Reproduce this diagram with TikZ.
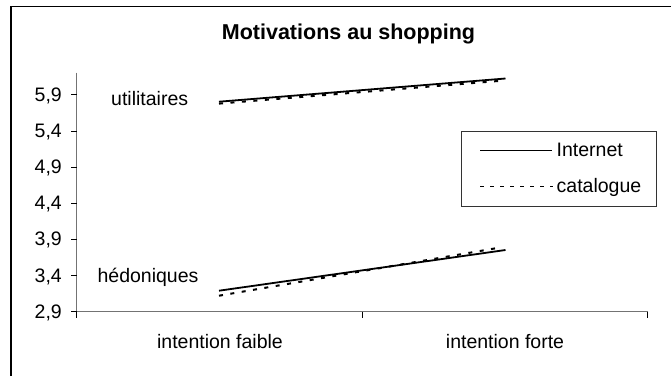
\documentclass[tikz,border=0pt]{standalone}
\usepackage{fontspec}
\setmainfont{Liberation Sans}
\begin{document}
\begin{tikzpicture}[x=1pt,y=-1pt,
  lbl/.style={inner sep=0pt,font=\fontsize{19.5}{22}\selectfont},
  ticklbl/.style={lbl,anchor=base east},
  axisline/.style={draw=black!55,line width=1.1pt},
  tickmark/.style={draw=black,line width=0.9pt},
  internet/.style={draw=black,line width=1.8pt},
  catalogue/.style={draw=black,line width=2pt,dash pattern=on 4pt off 7.5pt},
  leginternet/.style={draw=black,line width=1.2pt},
  legcatalogue/.style={draw=black,line width=1.3pt,dash pattern=on 3.5pt off 6.5pt}]
\useasboundingbox (0,0) rectangle (671,376);
% frame (only top and left visible)
\draw[line width=1.5pt] (11,376) -- (11,6.7) -- (671,6.7);
% title
\node[inner sep=0pt,anchor=base,font=\fontsize{21.5}{24}\selectfont\bfseries] (title) at (348.5,39) {Motivations au shopping};
% axes
\coordinate (o) at (76.7,311.7);
\coordinate (ytop) at (76.7,72.7);
\coordinate (xend) at (647.5,311.7);
\draw[axisline] (ytop) -- (76.7,318);
\draw[axisline] (o) -- (xend);
% y ticks and labels
\foreach \v/\t [count=\i] in {2.9/2{,}9,3.4/3{,}4,3.9/3{,}9,4.4/4{,}4,4.9/4{,}9,5.4/5{,}4,5.9/5{,}9}{
  \pgfmathsetmacro{\yy}{311.7-(\v-2.9)*72.3}
  \draw[tickmark] (71,\yy) -- (76.7,\yy);
  \node[ticklbl] (yl\i) at (62,\yy+6.5) {\t};
}
% x ticks
\draw[tickmark] (76.7,311.7) -- (76.7,318);
\draw[tickmark] (362.3,311.7) -- (362.3,318);
\draw[tickmark] (647.5,311.7) -- (647.5,318);
\node[lbl,anchor=base] (xl1) at (220,348.3) {intention faible};
\node[lbl,anchor=base] (xl2) at (505,348.3) {intention forte};
% group labels
\node[lbl,anchor=base] (util) at (149.7,105.5) {utilitaires};
\node[lbl,anchor=base] (hedo) at (148,282) {hédoniques};
% data points
\coordinate (ui1) at (219,101.7);
\coordinate (ui2) at (505.5,78.5);
\coordinate (uc1) at (219,103.6);
\coordinate (uc2) at (503,80.6);
\coordinate (hi1) at (219,290.7);
\coordinate (hi2) at (505.5,250);
\coordinate (hc1) at (219,295.7);
\coordinate (hc2) at (502,247.2);
\draw[catalogue] (uc1) -- (uc2);
\draw[internet] (ui1) -- (ui2);
\draw[catalogue] (hc1) -- (hc2);
\draw[internet] (hi1) -- (hi2);
% legend
\draw[draw=black!80,line width=1pt] (461.7,131.7) rectangle (656.7,206.7);
\coordinate (li1) at (480,150.7);
\coordinate (li2) at (552,150.7);
\coordinate (lc1) at (480,186.7);
\coordinate (lc2) at (553,186.7);
\draw[leginternet] (li1) -- (li2);
\draw[legcatalogue] (lc1) -- (lc2);
\node[lbl,anchor=base west] (legi) at (556.5,156) {Internet};
\node[lbl,anchor=base west] (legc) at (556.5,192.7) {catalogue};
\end{tikzpicture}
\end{document}
